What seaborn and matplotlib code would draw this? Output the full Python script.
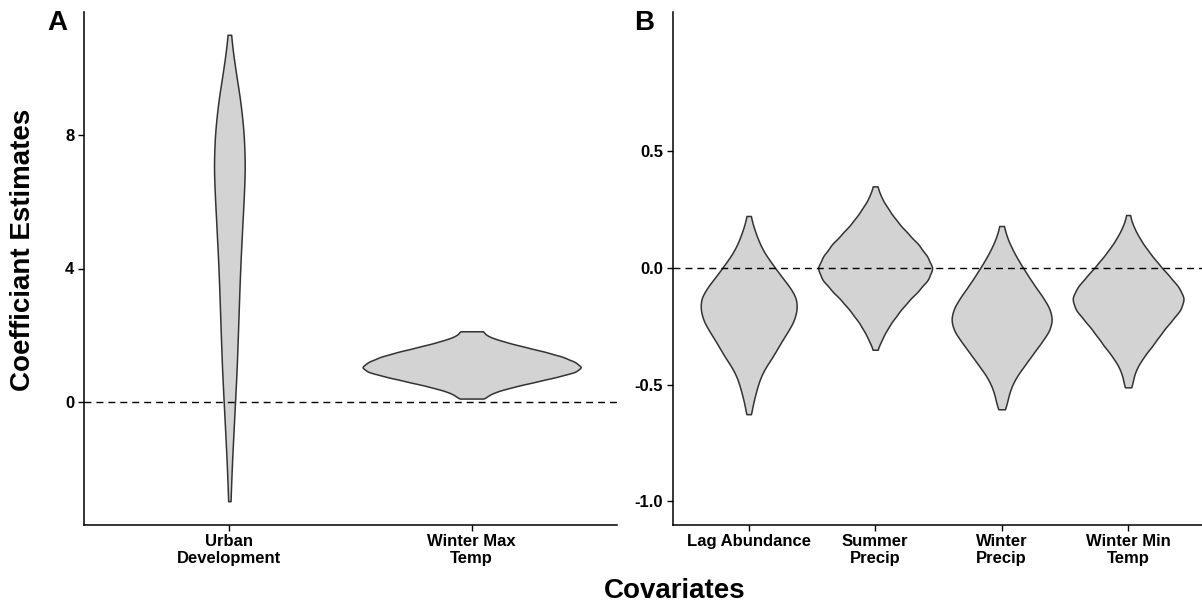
import numpy as np
import pandas as pd
import matplotlib
matplotlib.use("Agg")
import matplotlib.pyplot as plt
import seaborn as sns

# Panel A: coefficient estimates, profile
# (levels on the y axis and relative counts at each level)
panel_a_labels = ["Urban\nDevelopment", "Winter Max\nTemp"]

urban_dev_levels = [11, 10, 9, 8, 7, 6, 5, 4, 3, 2, 1, 0, -1, -2, -2.97]
urban_dev_counts = [2, 10, 20, 26, 28, 25, 22, 19, 17, 15, 13, 10, 7, 4, 2]

winter_max_levels = [2.12, 1.95, 1.80, 1.65, 1.50, 1.35, 1.20, 1.05, 0.90, 0.75, 0.60, 0.45, 0.30, 0.15, 0.105]
winter_max_counts = [13, 17, 32, 51, 71, 88, 99, 106, 100, 81, 60, 39, 22, 10, 6]

# Panel B
panel_b_labels = ["Lag Abundance", "Summer\nPrecip", "Winter\nPrecip", "Winter Min\nTemp"]

lag_abund_levels = [0.223, 0.17, 0.12, 0.07, 0.02, -0.03, -0.08, -0.13, -0.18, -0.23, -0.28,
                    -0.33, -0.38, -0.43, -0.48, -0.53, -0.58, -0.626]
lag_abund_counts = [2, 5, 9, 14, 22, 30, 39, 46, 46, 43, 36, 29, 23, 15, 10, 7, 4, 2]

summer_precip_levels = [0.35, 0.30, 0.25, 0.20, 0.15, 0.10, 0.05, 0.0, -0.05, -0.10, -0.15,
                        -0.20, -0.25, -0.30, -0.35]
summer_precip_counts = [2, 6, 13, 21, 31, 42, 50, 56, 51, 41, 30, 21, 13, 7, 2]

winter_precip_levels = [0.18, 0.13, 0.08, 0.03, -0.02, -0.07, -0.12, -0.17, -0.22, -0.27,
                        -0.32, -0.37, -0.42, -0.47, -0.52, -0.57, -0.605]
winter_precip_counts = [2, 5, 10, 16, 23, 30, 38, 45, 48, 45, 37, 29, 21, 13, 8, 5, 2]

winter_min_levels = [0.227, 0.17, 0.12, 0.07, 0.02, -0.03, -0.08, -0.13, -0.18, -0.23, -0.28,
                     -0.33, -0.38, -0.43, -0.48, -0.511]
winter_min_counts = [2, 6, 12, 20, 29, 39, 49, 55, 51, 41, 32, 24, 15, 8, 4, 2]


def build_frame(labels, level_lists, count_lists):
    rows = []
    for lab, lev, cnt in zip(labels, level_lists, count_lists):
        vals = np.repeat(lev, cnt)
        rows.append(pd.DataFrame({"covariate": lab, "estimate": vals}))
    return pd.concat(rows, ignore_index=True)


df_a = build_frame(panel_a_labels,
                   [urban_dev_levels, winter_max_levels],
                   [urban_dev_counts, winter_max_counts])
df_b = build_frame(panel_b_labels,
                   [lag_abund_levels, summer_precip_levels, winter_precip_levels, winter_min_levels],
                   [lag_abund_counts, summer_precip_counts, winter_precip_counts, winter_min_counts])

sns.set_style("ticks")
plt.rcParams['font.family'] = ['Liberation Sans', 'DejaVu Sans']
plt.rcParams['font.weight'] = 'bold'
plt.rcParams['text.color'] = 'black'

W, H = 1202, 608
fig = plt.figure(figsize=(W / 100, H / 100), dpi=100)
ax_a = fig.add_axes([84 / W, (H - 524.6) / H, 533 / W, 512.2 / H])
ax_b = fig.add_axes([672.8 / W, (H - 524.6) / H, 531.2 / W, 512.2 / H])

violin_kw = dict(x="covariate", y="estimate", color="#D3D3D3", linecolor="#333333",
                 linewidth=1.1, inner=None, cut=0, density_norm="area", bw_method=0.2,
                 width=0.9, saturation=1)

sns.violinplot(data=df_a, ax=ax_a, order=panel_a_labels, **violin_kw)
sns.violinplot(data=df_b, ax=ax_b, order=panel_b_labels, **violin_kw)

for ax, n in [(ax_a, 2), (ax_b, 4)]:
    ax.axhline(0, color="black", lw=1.0, linestyle=(0, (5, 3.6)), zorder=5)
    ax.set_xlim(-0.6, n - 1 + 0.6)
    ax.set_xlabel("")
    ax.set_ylabel("")
    sns.despine(ax=ax)
    for sp in ["left", "bottom"]:
        ax.spines[sp].set_linewidth(1.1)
        ax.spines[sp].set_color("black")
    ax.tick_params(axis="both", length=4, width=1.0, color="black", pad=3,
                   labelsize=12, labelcolor="black")

ax_a.set_ylim(-3.67, 11.67)
ax_a.set_yticks([0, 4, 8])
ax_a.set_yticklabels(["0", "4", "8"])

ax_b.set_ylim(-1.099, 1.095)
ax_b.set_yticks([-1.0, -0.5, 0.0, 0.5])
ax_b.set_yticklabels(["-1.0", "-0.5", "0.0", "0.5"])

for ax in [ax_a, ax_b]:
    for lab in ax.get_xticklabels() + ax.get_yticklabels():
        lab.set_fontweight("bold")
        lab.set_color("black")
    for lab in ax.get_xticklabels():
        lab.set_linespacing(1.1)

fig.text(23 / W, 1 - 250 / H, "Coefficiant Estimates", rotation=90, ha="center", va="center",
         fontsize=20, fontweight="bold", color="black")
fig.text(675 / W, 1 - 591 / H, "Covariates", ha="center", va="center",
         fontsize=20, fontweight="bold", color="black")
fig.text(57.5 / W, 1 - 23 / H, "A", ha="center", va="center", fontsize=20,
         fontweight="bold", color="black")
fig.text(644.5 / W, 1 - 23 / H, "B", ha="center", va="center", fontsize=20,
         fontweight="bold", color="black")

fig.savefig("out.png", dpi=100)
plt.close(fig)
